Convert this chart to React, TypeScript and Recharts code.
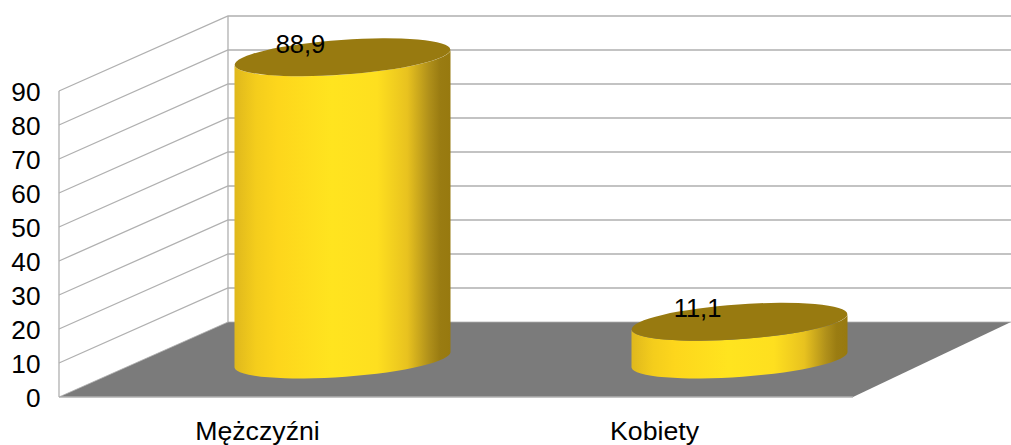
import { Bar, BarChart, CartesianGrid, LabelList, XAxis, YAxis } from "recharts";

const categories = ["Mężczyźni", "Kobiety"];
const values = [88.9, 11.1];
const yTicks = [0, 10, 20, 30, 40, 50, 60, 70, 80, 90];

const data = categories.map((name, i) => ({ name, value: values[i] }));

const WIDTH = 1011;
const HEIGHT = 445;
const FLOOR_Y = 397;
const FONT = "'Liberation Sans', Arial, sans-serif";
const GRID = "#b0b0b0";
// the fake 3d: how far the back wall sits from the front plane
const DEPTH_X = 169;
const DEPTH_Y = -75;

const fmt = (v: number) => String(v).replace(".", ",");

// every grid line folds along the side wall and runs on along the back wall
function WallLine(props: any) {
  const { x1, x2, y1 } = props;
  const backX = x1 + DEPTH_X;
  const backY = y1 + DEPTH_Y;
  const isFloor = Math.abs(y1 - FLOOR_Y) < 1;
  return (
    <g key={props.key}>
      {isFloor && (
        <>
          <polygon
            points={`${x1},${y1} ${backX},${backY} ${WIDTH},${backY} ${x2},${y1}`}
            fill="#7b7b7b"
          />
          <line x1={x1} y1={y1} x2={x1} y2={91} stroke={GRID} strokeWidth={1.3} />
          <line x1={backX} y1={backY} x2={backX} y2={16} stroke={GRID} strokeWidth={1.3} />
          <line x1={x1} y1={y1} x2={x2} y2={y1} stroke={GRID} strokeWidth={1.3} />
        </>
      )}
      <polyline
        points={`${x1},${y1} ${backX},${backY} ${WIDTH},${backY}`}
        fill="none"
        stroke={GRID}
        strokeWidth={isFloor ? 0.8 : 1.3}
      />
    </g>
  );
}

function Cylinder(props: any) {
  const { x, y, width, height } = props;
  const cx = x + width / 2 + DEPTH_X / 2;
  const top = y + DEPTH_Y / 2;
  const bottom = y + height + DEPTH_Y / 2;
  const half = width / 2;
  const rx = half + 0.1;
  const ry = 17.4;
  const rot = -4.08;
  const tilt = 8;
  const body = [
    `M ${cx - half} ${top + tilt}`,
    `L ${cx - half} ${bottom + tilt}`,
    `A ${rx} ${ry} ${rot} 0 0 ${cx + half} ${bottom - tilt}`,
    `L ${cx + half} ${top - tilt}`,
    `A ${rx} ${ry} ${rot} 0 1 ${cx - half} ${top + tilt}`,
    "Z",
  ].join(" ");
  return (
    <g>
      <path d={body} fill="url(#cylinderSide)" />
      <ellipse
        cx={cx}
        cy={top}
        rx={rx}
        ry={ry}
        fill="#987a10"
        transform={`rotate(${rot} ${cx} ${top})`}
      />
    </g>
  );
}

function ValueLabel(props: any) {
  const { x, y, width, value } = props;
  return (
    <text
      x={x + width / 2 + 42.5}
      y={y - 42}
      textAnchor="middle"
      fontSize={25.5}
      fontFamily={FONT}
      fill="#000"
    >
      {fmt(value)}
    </text>
  );
}

export default function App() {
  return (
    <div style={{ position: "absolute", left: 0, top: 0, width: WIDTH, height: HEIGHT, background: "#fff" }}>
      <BarChart
        width={WIDTH}
        height={HEIGHT}
        data={data}
        margin={{ top: 91, right: 158, bottom: 18, left: 0 }}
      >
        <defs>
          <linearGradient id="cylinderSide" x1="0" y1="0" x2="1" y2="0">
            <stop offset="0" stopColor="#dfb81d" />
            <stop offset="0.1" stopColor="#f4cd1c" />
            <stop offset="0.2" stopColor="#fdd61c" />
            <stop offset="0.45" stopColor="#ffe41f" />
            <stop offset="0.66" stopColor="#fedf1f" />
            <stop offset="0.8" stopColor="#e8c21f" />
            <stop offset="0.9" stopColor="#b0901a" />
            <stop offset="0.95" stopColor="#9a7c12" />
            <stop offset="1" stopColor="#97790f" />
          </linearGradient>
        </defs>
        <CartesianGrid vertical={false} horizontal={WallLine as any} />
        <XAxis
          dataKey="name"
          axisLine={false}
          tickLine={false}
          tickMargin={18}
          interval={0}
          tick={{ fontSize: 26.7, fontFamily: FONT, fill: "#000" }}
        />
        <YAxis
          type="number"
          domain={[0, 90]}
          ticks={yTicks}
          width={59}
          axisLine={false}
          tickLine={false}
          tickSize={0}
          tickMargin={18.5}
          interval={0}
          tick={{ fontSize: 26.2, fontFamily: FONT, fill: "#000", dy: 1 } as any}
        />
        <Bar dataKey="value" barSize={216} shape={Cylinder} isAnimationActive={false}>
          <LabelList dataKey="value" content={ValueLabel as any} />
        </Bar>
      </BarChart>
    </div>
  );
}
